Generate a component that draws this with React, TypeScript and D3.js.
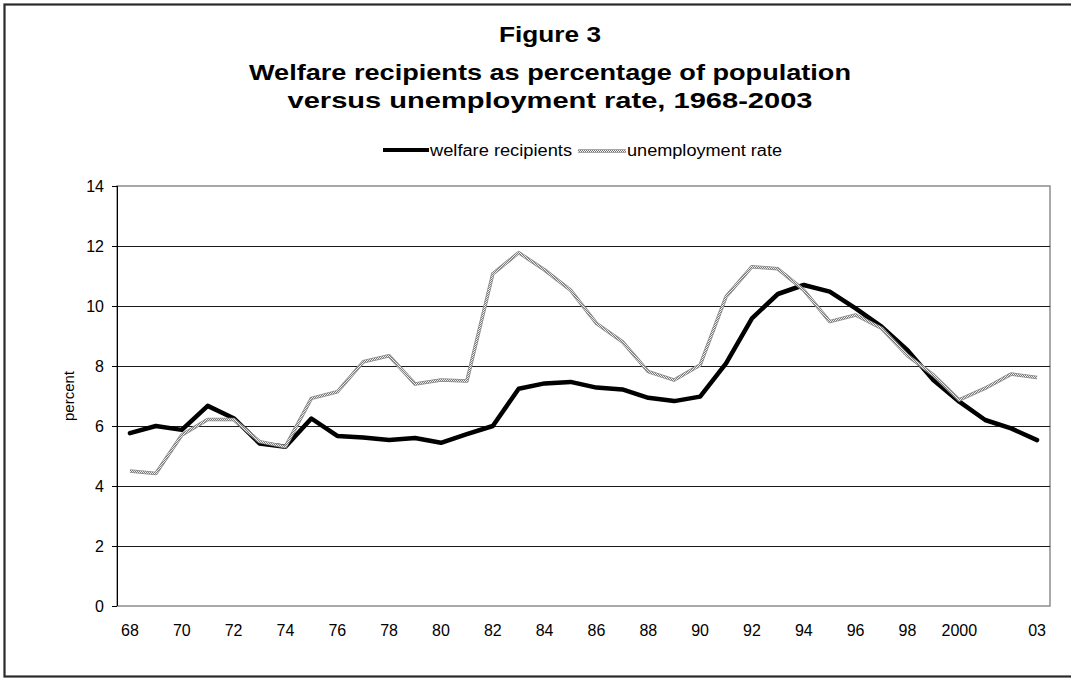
import React from "react";
import * as d3 from "d3";

// Calendar years on the category axis
const years: number[] = [
  1968, 1969, 1970, 1971, 1972, 1973, 1974, 1975, 1976, 1977, 1978, 1979,
  1980, 1981, 1982, 1983, 1984, 1985, 1986, 1987, 1988, 1989, 1990, 1991,
  1992, 1993, 1994, 1995, 1996, 1997, 1998, 1999, 2000, 2001, 2002, 2003,
];

// Category labels (blank where no label is printed)
const yearLabels: string[] = [
  "68", "", "70", "", "72", "", "74", "", "76", "", "78", "",
  "80", "", "82", "", "84", "", "86", "", "88", "", "90", "",
  "92", "", "94", "", "96", "", "98", "", "2000", "", "", "03",
];

// Welfare recipients, percent of population
const welfareRecipients: number[] = [
  5.76, 6.0, 5.87, 6.67, 6.26, 5.42, 5.31, 6.25, 5.67, 5.62, 5.53, 5.6,
  5.44, 5.73, 6.0, 7.24, 7.42, 7.47, 7.28, 7.22, 6.94, 6.83, 6.98, 8.09,
  9.59, 10.4, 10.7, 10.48, 9.92, 9.31, 8.53, 7.53, 6.81, 6.2, 5.92, 5.53,
];

// Unemployment rate, percent
const unemploymentRate: number[] = [
  4.5, 4.42, 5.7, 6.22, 6.22, 5.48, 5.31, 6.92, 7.14, 8.14, 8.34, 7.4,
  7.53, 7.5, 11.07, 11.78, 11.2, 10.53, 9.42, 8.81, 7.81, 7.53, 8.03, 10.31,
  11.31, 11.24, 10.53, 9.48, 9.7, 9.26, 8.35, 7.7, 6.87, 7.26, 7.73, 7.62,
];

const yTicks: number[] = [0, 2, 4, 6, 8, 10, 12, 14];

const titleLines: string[] = [
  "Figure 3",
  "Welfare recipients as percentage of population",
  "versus unemployment rate, 1968-2003",
];

const FONT = "'Liberation Sans', Arial, Helvetica, sans-serif";

export default function App() {
  const W = 1071;
  const H = 679;
  const plot = { left: 117, right: 1050, top: 186, bottom: 606 };

  const x = d3
    .scaleBand<number>()
    .domain(years)
    .range([plot.left, plot.right])
    .padding(0);
  const cx = (yr: number) => (x(yr) as number) + x.bandwidth() / 2;

  const y = d3.scaleLinear().domain([0, 14]).range([plot.bottom, plot.top]);

  const line = d3
    .line<number>()
    .x((_, i) => cx(years[i]))
    .y((v) => y(v));

  const welfarePath = line(welfareRecipients) || "";
  const unempPath = line(unemploymentRate) || "";

  const titleSpec = [
    { baseline: 42, len: 102 },
    { baseline: 80, len: 602 },
    { baseline: 108, len: 525 },
  ];
  const titleCenter = 550;

  return (
    <svg
      width={W}
      height={H}
      viewBox={`0 0 ${W} ${H}`}
      style={{ position: "absolute", left: 0, top: 0, background: "#fff" }}
      fontFamily={FONT}
    >
      <defs>
        <pattern id="stipple" width="2" height="2" patternUnits="userSpaceOnUse">
          <rect x="0" y="0" width="2" height="2" fill="#f0f0f0" />
          <rect x="0" y="0" width="1" height="1" fill="#7a7a7a" />
          <rect x="1" y="1" width="1" height="1" fill="#7a7a7a" />
        </pattern>
      </defs>

      <rect x={0} y={0} width={W} height={H} fill="#fff" />
      {/* outer chart frame */}
      <rect
        x={4.5}
        y={4.5}
        width={1080}
        height={672}
        fill="none"
        stroke="#2a2a2a"
        strokeWidth={2.2}
      />

      {/* title */}
      {titleLines.map((t, i) => (
        <text
          key={i}
          x={titleCenter}
          y={titleSpec[i].baseline}
          textAnchor="middle"
          fontSize={22}
          fontWeight="bold"
          textLength={titleSpec[i].len}
          lengthAdjust="spacingAndGlyphs"
          fill="#000"
        >
          {t}
        </text>
      ))}

      {/* legend */}
      <g>
        <line x1={383} x2={429} y1={150} y2={150} stroke="#000" strokeWidth={4} />
        <text
          x={430}
          y={156}
          fontSize={16}
          textLength={142}
          lengthAdjust="spacingAndGlyphs"
          fill="#000"
        >
          welfare recipients
        </text>
        <line x1={578} x2={626} y1={151} y2={151} stroke="#8a8a8a" strokeWidth={3.5} />
        <line x1={578} x2={626} y1={151} y2={151} stroke="url(#stipple)" strokeWidth={2} />
        <text
          x={627}
          y={156}
          fontSize={16}
          textLength={155}
          lengthAdjust="spacingAndGlyphs"
          fill="#000"
        >
          unemployment rate
        </text>
      </g>

      {/* plot frame */}
      <rect
        x={plot.left}
        y={plot.top}
        width={plot.right - plot.left}
        height={plot.bottom - plot.top}
        fill="#fff"
        stroke="#8c8c8c"
        strokeWidth={1.5}
      />

      {/* horizontal gridlines */}
      {yTicks
        .filter((v) => v > 0 && v < 14)
        .map((v) => (
          <line
            key={v}
            x1={plot.left}
            x2={plot.right}
            y1={Math.round(y(v)) + 0.5}
            y2={Math.round(y(v)) + 0.5}
            stroke="#1a1a1a"
            strokeWidth={1}
          />
        ))}

      {/* y axis */}
      <line
        x1={plot.left + 0.5}
        x2={plot.left + 0.5}
        y1={plot.top}
        y2={plot.bottom}
        stroke="#000"
        strokeWidth={1}
      />
      {yTicks.map((v) => (
        <g key={v}>
          <line
            x1={plot.left - 5}
            x2={plot.left}
            y1={Math.round(y(v)) + 0.5}
            y2={Math.round(y(v)) + 0.5}
            stroke="#000"
            strokeWidth={1}
          />
          <text
            x={104}
            y={y(v) + 6}
            textAnchor="end"
            fontSize={16}
            fill="#000"
          >
            {v}
          </text>
        </g>
      ))}
      <text
        transform={`translate(74, ${(plot.top + plot.bottom) / 2}) rotate(-90)`}
        textAnchor="middle"
        fontSize={15}
        fill="#000"
      >
        percent
      </text>

      {/* x axis labels */}
      {years.map((yr, i) =>
        yearLabels[i] ? (
          <text
            key={yr}
            x={cx(yr)}
            y={636}
            textAnchor="middle"
            fontSize={16}
            fill="#000"
          >
            {yearLabels[i]}
          </text>
        ) : null
      )}

      {/* series */}
      <path
        d={welfarePath}
        fill="none"
        stroke="#000"
        strokeWidth={4.5}
        strokeLinejoin="round"
        strokeLinecap="round"
      />
      <path
        d={unempPath}
        fill="none"
        stroke="#8a8a8a"
        strokeWidth={3.5}
        strokeLinejoin="round"
      />
      <path
        d={unempPath}
        fill="none"
        stroke="url(#stipple)"
        strokeWidth={2}
        strokeLinejoin="round"
      />
    </svg>
  );
}
